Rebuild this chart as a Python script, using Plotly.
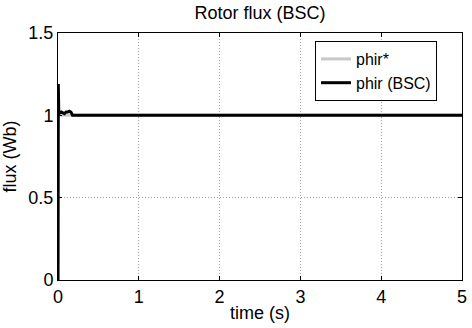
import plotly.graph_objects as go

# Data
t_ref = [0.0, 0.0005, 5.0]
phir_ref = [0.0, 1.0, 1.0]

t_bsc = [0.0, 0.002, 0.004, 0.006, 0.01, 0.02, 0.04, 0.06, 0.08, 0.1, 0.12, 0.14, 0.16, 0.17, 0.18, 0.2, 1.0, 2.0, 3.0, 4.0, 5.0]
phir_bsc = [0.0, 0.9, 1.19, 0.98, 1.01, 1.015, 1.02, 1.015, 1.01, 1.02, 1.02, 1.025, 1.02, 1.01, 1.0, 1.0, 1.0, 1.0, 1.0, 1.0, 1.0]

x_ticks = [0, 1, 2, 3, 4, 5]
y_ticks = [0, 0.5, 1, 1.5]
y_tick_labels = ["0", "0.5", "1", "1.5"]

FONT = "Liberation Sans, Arial, sans-serif"
FS = 18

fig = go.Figure()
fig.add_trace(go.Scatter(x=t_ref, y=phir_ref, mode="lines", name="phir*",
                         line=dict(color="#c8c8c8", width=3)))
fig.add_trace(go.Scatter(x=t_bsc, y=phir_bsc, mode="lines", name="phir (BSC)",
                         line=dict(color="black", width=3)))

axis_common = dict(
    showline=True, linecolor="black", linewidth=1, mirror="ticks",
    ticks="inside", ticklen=4, tickcolor="black",
    showgrid=True, gridcolor="#a0a0a0", griddash="1px,2px", gridwidth=1,
    zeroline=False, automargin=False,
    tickfont=dict(family=FONT, size=FS, color="black"),
)

fig.update_layout(
    width=472, height=328,
    margin=dict(l=58, r=10, t=33, b=48),
    paper_bgcolor="white", plot_bgcolor="white",
    font=dict(family=FONT, size=FS, color="black"),
    title=dict(text="Rotor flux (BSC)", x=0.5, xanchor="center", xref="paper",
               y=1 - 13 / 328, yref="container", yanchor="middle",
               font=dict(family=FONT, size=FS, color="black")),
    xaxis=dict(range=[0, 5], tickvals=x_ticks,
               title=dict(text="time (s)", standoff=0, font=dict(family=FONT, size=FS)),
               **axis_common),
    yaxis=dict(range=[0, 1.5], tickvals=y_ticks, ticktext=y_tick_labels,
               title=dict(text="flux (Wb)", standoff=8, font=dict(family=FONT, size=FS)),
               **axis_common),
    legend=dict(x=(315 - 58) / 404, y=(280 - 41) / 247, xanchor="left", yanchor="top",
                bgcolor="white", bordercolor="black", borderwidth=1,
                font=dict(family=FONT, size=16, color="black"),
                tracegroupgap=0, itemwidth=30, entrywidth=92),
    showlegend=True,
)

fig.write_html("out.html")
